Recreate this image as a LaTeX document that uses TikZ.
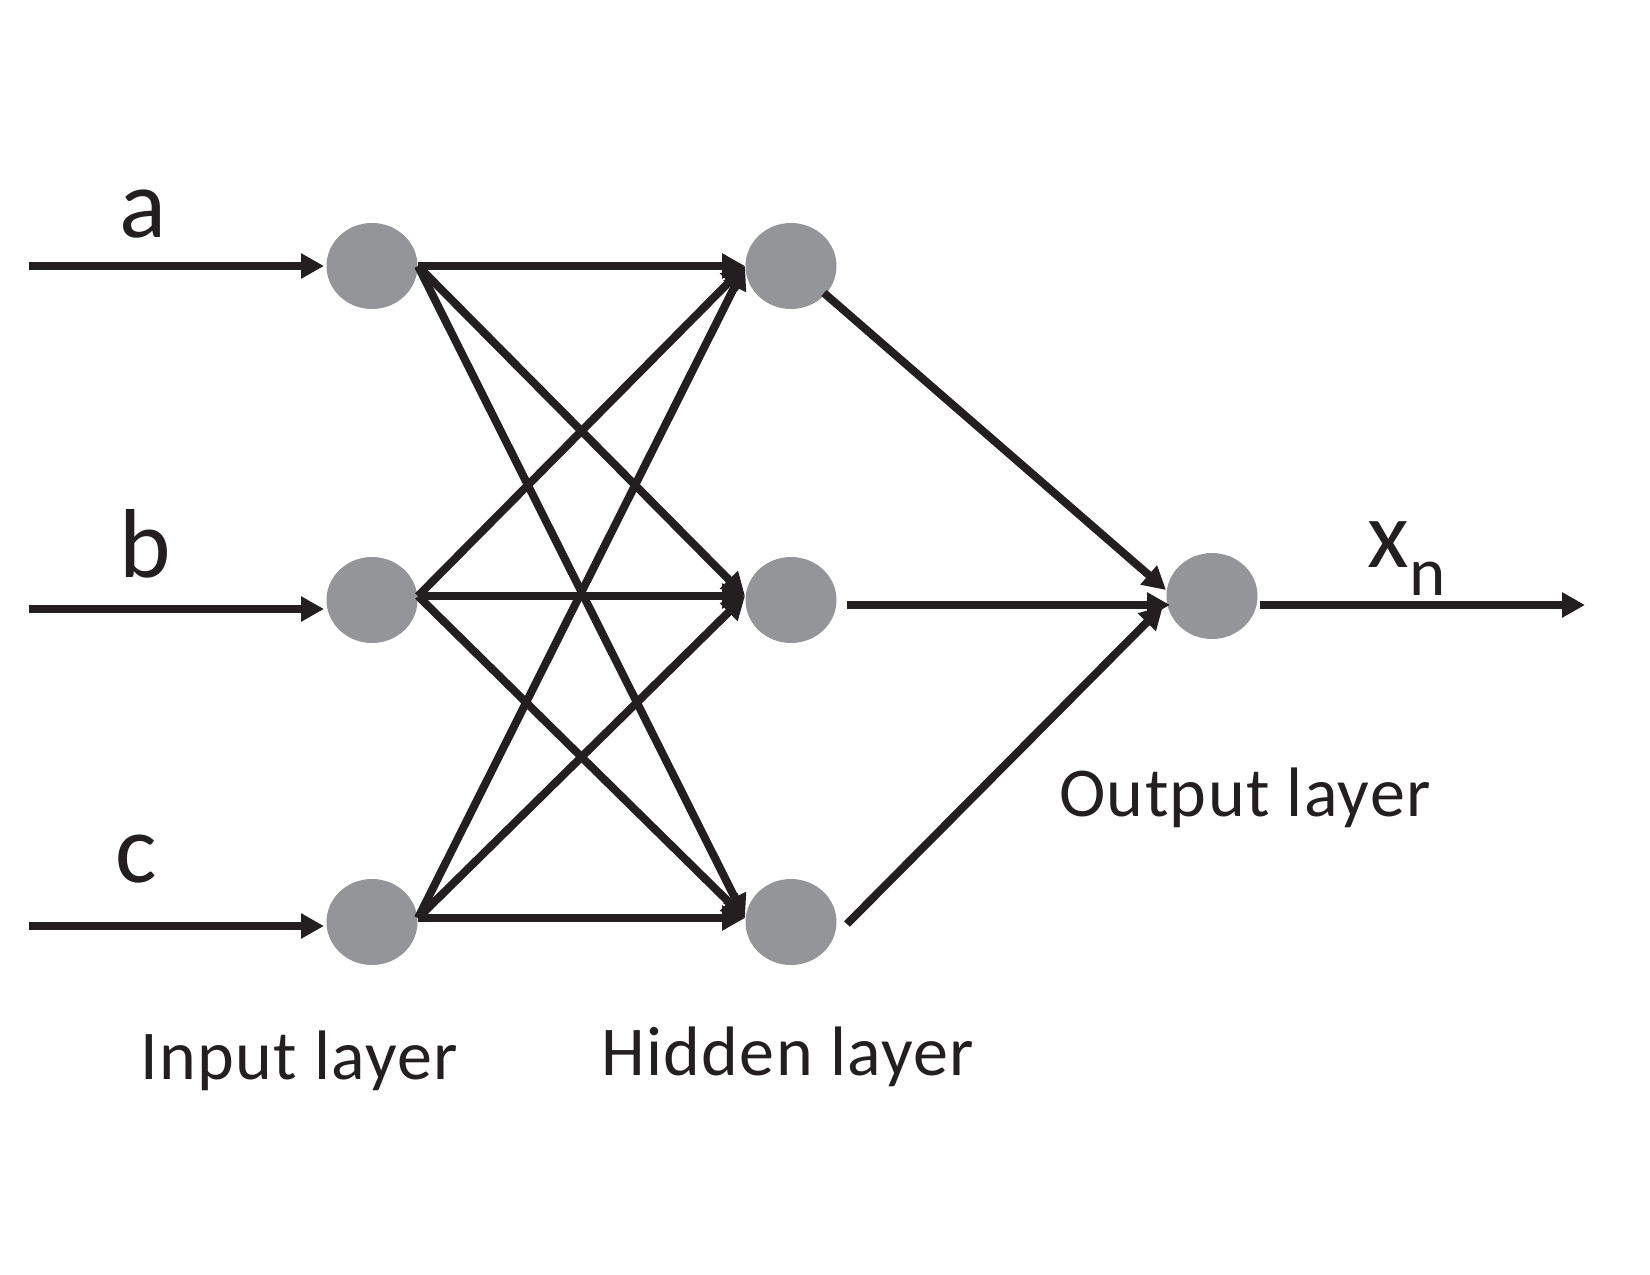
\documentclass[tikz,border=0pt]{standalone}
\usepackage{fontspec}
\setmainfont{Carlito}
\newfontfamily\lblfont[LetterSpace=2.0]{Carlito}
\usetikzlibrary{arrows.meta,shapes.geometric}
\definecolor{ink}{HTML}{231F20}
\definecolor{nodegray}{HTML}{939598}
\begin{document}
\begin{tikzpicture}[x=1pt,y=-1pt,
  neuron/.style={ellipse, fill=nodegray, minimum width=91pt, minimum height=86pt, inner sep=0pt},
  conn/.style={draw=ink, line width=8pt, -{Triangle[length=23pt,width=24pt]}},
  biglbl/.style={font=\fontsize{98}{110}\selectfont, text=ink, inner sep=0pt, anchor=base},
  layerlbl/.style={font=\lblfont\fontsize{70}{84}\selectfont, text=ink, inner sep=0pt, anchor=base west}
]
\useasboundingbox (0,0) rectangle (1650,1275);
\fill[white] (0,0) rectangle (1650,1275);

% neurons
\node[neuron] (ia) at (372,266) {};
\node[neuron] (ib) at (372,600) {};
\node[neuron] (ic) at (372,922) {};
\node[neuron] (ha) at (791,266) {};
\node[neuron] (hb) at (791,600) {};
\node[neuron] (hc) at (791,922) {};
\node[neuron] (o)  at (1212,596) {};

% ports
\coordinate (sa) at (29,266);
\coordinate (sb) at (29,609);
\coordinate (sc) at (29,926);
\coordinate (ta) at (324,266);
\coordinate (tb) at (324,609);
\coordinate (tc) at (324,926);
\coordinate (oa) at (418,266);
\coordinate (ob) at (418,596);
\coordinate (oc) at (418,918);
\coordinate (pa) at (745,266);
\coordinate (pb) at (745,596);
\coordinate (pc) at (745,918);
\coordinate (qa) at (824,293);
\coordinate (qb) at (847,605);
\coordinate (qc) at (847,924);
\coordinate (ra) at (1166,590);
\coordinate (rb) at (1170,605);
\coordinate (rc) at (1163,606);
\coordinate (so) at (1260,605);
\coordinate (eo) at (1585,605);

% inputs
\draw[conn] (sa) -- (ta);
\draw[conn] (sb) -- (tb);
\draw[conn] (sc) -- (tc);

% input -> hidden
\foreach \s in {oa,ob,oc}{
  \foreach \t in {pa,pb,pc}{
    \draw[conn] (\s) -- (\t);
  }
}

% hidden -> output
\draw[conn] (qa) -- (ra);
\draw[conn] (qb) -- (rb);
\draw[conn] (qc) -- (rc);

% output
\draw[conn] (so) -- (eo);

% labels
\node[biglbl] (la) at (143,237) {a};
\node[biglbl] (lb) at (145,577) {b};
\node[biglbl] (lc) at (136,882) {c};
\node[biglbl, font=\fontsize{96}{110}\selectfont] (lx) at (1388,567) {x};
\node[text=ink, inner sep=0pt, anchor=base, font=\fontsize{69}{80}\selectfont] (ln) at (1428,595) {n};
\node[layerlbl] (li) at (140,1079) {Input layer};
\node[layerlbl] (lh) at (601,1075) {Hidden layer};
\node[layerlbl] (lo) at (1059,816) {Output layer};
\end{tikzpicture}
\end{document}
